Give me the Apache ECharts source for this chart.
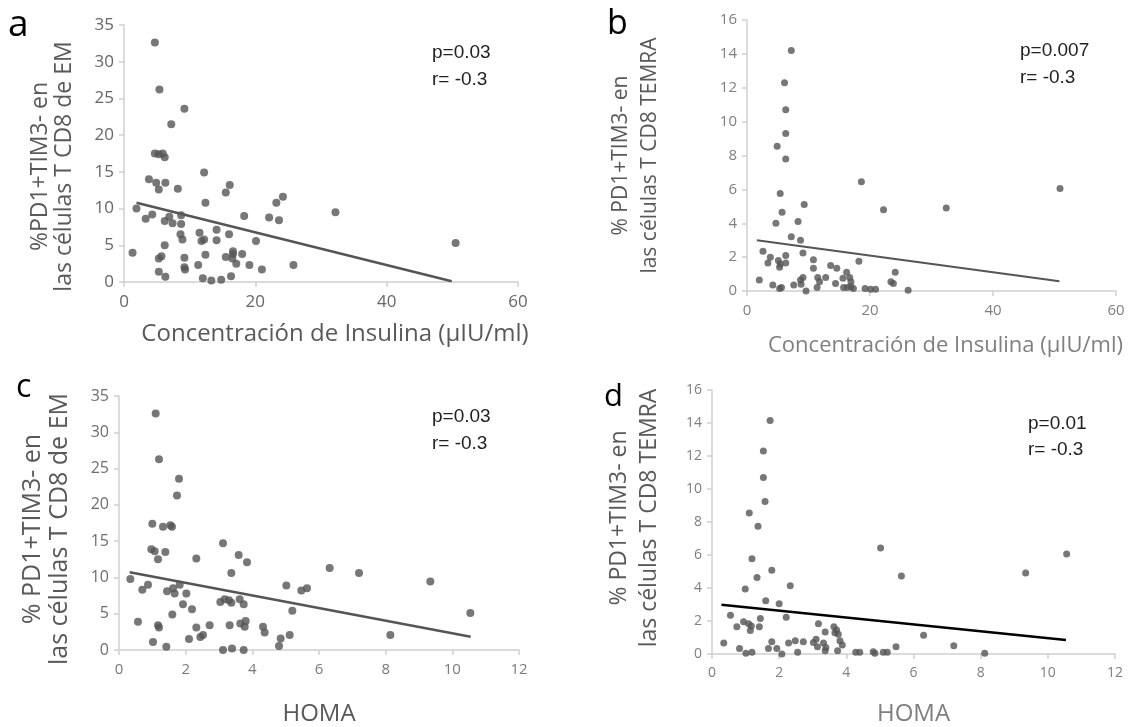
<!DOCTYPE html>
<html><head><meta charset="utf-8">
<script src="https://cdn.jsdelivr.net/npm/echarts@6/dist/echarts.min.js"></script>
<style>html,body{margin:0;padding:0;background:#fff}#c{width:1145px;height:727px}</style>
</head><body><div id="c"></div>
<script>
// Panel a: insulin vs EM
const aPoints = [[4.7,32.6],[5.4,26.2],[9.2,23.6],[7.2,21.5],[4.7,17.5],[5.3,17.4],[5.9,17.5],[6.2,17.0],[3.8,14.0],[4.9,13.5],[5.3,12.6],[6.3,13.5],[8.2,12.7],[12.2,14.9],[12.4,10.8],[15.5,12.2],[16.1,13.2],[1.9,10.0],[3.3,8.6],[4.3,9.2],[6.2,8.3],[6.9,8.9],[7.4,8.0],[8.7,9.1],[8.7,7.9],[8.6,6.5],[8.9,5.8],[11.5,6.7],[11.8,5.6],[12.2,5.8],[14.1,7.1],[14.1,5.7],[16.0,6.5],[18.3,9.0],[20.1,5.6],[22.1,8.8],[23.2,10.8],[23.6,8.4],[24.2,11.6],[1.3,4.0],[6.2,5.0],[5.7,3.5],[5.3,3.2],[9.2,3.3],[9.2,2.0],[9.3,1.7],[11.3,2.3],[12.4,3.7],[15.5,3.4],[16.6,4.2],[16.6,3.8],[16.5,3.2],[17.1,2.5],[18.0,3.8],[19.1,2.3],[21.0,1.7],[25.8,2.3],[5.3,1.4],[6.3,0.7],[12.0,0.5],[13.3,0.2],[14.8,0.3],[16.3,0.8],[32.2,9.5],[50.5,5.3]];
const aTrend = [[1.9,10.8],[49.9,0.1]];
// Panel b: insulin vs TEMRA
const bPoints = [[7.2,14.2],[6.1,12.3],[6.3,10.7],[6.3,9.3],[4.9,8.55],[6.3,7.8],[5.4,5.75],[5.7,4.65],[4.7,4.0],[9.3,5.1],[8.3,4.1],[7.2,3.2],[8.7,3.0],[18.6,6.45],[2.6,2.35],[3.8,2.0],[3.4,1.65],[5.1,1.8],[5.4,1.6],[5.3,1.4],[6.3,2.1],[6.3,1.65],[9.1,2.25],[2.0,0.65],[4.2,0.35],[5.3,0.15],[5.6,0.2],[7.6,0.35],[8.7,0.65],[9.1,0.8],[8.8,0.4],[9.6,0.0],[10.8,1.85],[10.8,1.35],[11.5,0.8],[11.8,0.55],[11.4,0.2],[12.8,0.8],[13.6,1.5],[14.6,1.35],[14.4,0.45],[15.7,0.2],[16.2,1.1],[16.7,0.8],[16.9,0.55],[15.6,0.75],[16.3,0.2],[16.9,0.25],[17.3,0.15],[18.2,1.75],[19.2,0.15],[20.1,0.1],[20.9,0.1],[22.2,4.8],[32.4,4.9],[50.9,6.05],[24.1,1.1],[23.4,0.55],[23.8,0.45],[26.2,0.05]];
const bTrend = [[1.6,3.0],[50.8,0.57]];
// Panel c: HOMA vs EM
const cPoints = [[1.1,32.6],[1.2,26.3],[1.8,23.6],[1.74,21.3],[1.0,17.4],[1.32,17.0],[1.54,17.2],[1.59,17.0],[0.97,13.9],[1.07,13.6],[1.17,12.5],[1.39,13.5],[3.12,14.7],[2.32,12.6],[3.37,10.6],[3.59,13.1],[3.84,12.1],[0.34,9.8],[0.7,8.3],[0.87,9.0],[1.44,8.1],[1.62,8.5],[1.67,7.8],[1.82,9.0],[2.02,7.8],[1.92,6.3],[2.19,5.6],[3.04,6.6],[3.17,7.0],[3.30,6.85],[3.37,6.5],[3.62,7.0],[3.74,6.3],[0.57,3.9],[1.6,4.9],[1.17,3.4],[1.2,3.1],[2.32,3.1],[2.44,1.8],[2.52,2.05],[2.72,3.4],[2.1,1.5],[1.02,1.1],[1.42,0.45],[3.32,3.4],[3.64,3.65],[3.8,4.0],[3.77,3.2],[4.32,3.2],[4.37,2.4],[3.12,0.0],[3.39,0.2],[3.74,0.0],[4.8,0.55],[4.85,1.6],[5.12,2.05],[5.02,8.9],[5.2,5.4],[5.47,8.2],[5.64,8.5],[6.32,11.3],[7.2,10.6],[9.34,9.45],[10.54,5.1],[8.14,2.05]];
const cTrend = [[0.32,10.7],[10.55,1.83]];
// Panel d: HOMA vs TEMRA
const dPoints = [[1.73,14.15],[1.53,12.3],[1.53,10.7],[1.58,9.25],[1.11,8.55],[1.37,7.75],[1.19,5.77],[1.34,4.63],[0.99,3.94],[1.78,5.07],[2.33,4.14],[1.6,3.22],[2.0,3.04],[2.21,2.23],[0.55,2.35],[0.74,1.65],[0.94,1.95],[1.09,1.83],[1.14,1.43],[1.17,1.69],[1.41,1.65],[1.44,2.15],[0.35,0.66],[0.82,0.34],[1.01,0.04],[1.19,0.1],[1.78,0.74],[1.68,0.34],[1.93,0.34],[2.08,0.0],[2.28,0.66],[2.48,0.8],[2.55,0.1],[2.72,0.74],[3.17,1.83],[3.02,0.7],[3.1,0.9],[3.14,0.44],[3.37,1.33],[3.32,0.66],[3.39,0.4],[3.37,0.2],[3.63,1.65],[3.66,1.29],[3.76,1.19],[3.71,1.45],[3.81,0.8],[3.88,0.54],[3.74,0.2],[4.28,0.1],[4.4,0.1],[4.8,0.14],[4.85,0.04],[5.02,6.42],[5.64,4.73],[9.34,4.91],[10.56,6.06],[6.3,1.13],[7.2,0.5],[8.12,0.04],[5.48,0.44],[5.1,0.1],[5.22,0.1]];
const dTrend = [[0.28,2.98],[10.54,0.85]];

const xNameInsulin = 'Concentración de Insulina (µIU/ml)';
const xNameHoma = 'HOMA';
const yNameEM_a = '%PD1+TIM3- en\nlas células T CD8 de EM';
const yNameEM_c = '% PD1+TIM3- en\nlas células T CD8 de EM';
const yNameTEMRA = '% PD1+TIM3- en\nlas células T CD8 TEMRA';
const panelLetters = ['a','b','c','d'];
const statsText = ['p=0.03\nr= -0.3','p=0.007\nr= -0.3','p=0.03\nr= -0.3','p=0.01\nr= -0.3'];

const FF = '"Open Sans", sans-serif';
const axisLine = {show:true, lineStyle:{color:'#d0d0d0', width:1.5}};
const axisTick = {show:true, length:5, lineStyle:{color:'#d0d0d0', width:1.5}};

function xAx(i, max, interval, name, fs, nfs, col, lcol, gap, nameOffset){
  return {gridIndex:i, type:'value', min:0, max:max, interval:interval, name:name,
    nameLocation:'middle', nameGap:gap, nameTextStyle:{fontFamily:FF, fontSize:nfs, color:col, padding:[0,0,0,nameOffset]},
    axisLine:axisLine, axisTick:axisTick, splitLine:{show:false},
    axisLabel:{fontFamily:FF, fontSize:fs, color:lcol, margin:12}};
}
function yAx(i, max, interval, name, fs, nfs, lh, gap, lcol, pad){
  return {gridIndex:i, type:'value', min:0, max:max, interval:interval, name:name,
    nameLocation:'middle', nameRotate:90, nameGap:gap,
    nameTextStyle:{fontFamily:FF, fontSize:nfs, color:'#595959', lineHeight:lh, padding:pad},
    axisLine:axisLine, axisTick:axisTick, splitLine:{show:false},
    axisLabel:{fontFamily:FF, fontSize:fs, color:lcol, margin:10}};
}
function sc(i, data, size){
  return {type:'scatter', xAxisIndex:i, yAxisIndex:i, data:data, symbolSize:size,
    itemStyle:{color:'#555555'}, silent:true};
}
function tr(i, data, color, w){
  return {type:'line', xAxisIndex:i, yAxisIndex:i, data:data, symbol:'none',
    lineStyle:{color:color, width:w}, silent:true};
}
const statFont = '19px "Liberation Sans", Arial';

const option = {
  animation:false,
  grid:[
    {left:124, top:25, width:394, height:257},
    {left:747, top:20, width:369, height:271},
    {left:119, top:396, width:400, height:256},
    {left:712, top:390, width:403, height:268}
  ],
  xAxis:[
    xAx(0, 60, 20, xNameInsulin, 17, 24, '#595959', '#666666', 40, 28),
    xAx(1, 60, 20, xNameInsulin, 15, 22, '#7f7f7f', '#7f7f7f', 44, 28),
    xAx(2, 12, 2, xNameHoma, 15, 24, '#595959', '#7a7a7a', 52, 0),
    xAx(3, 12, 2, xNameHoma, 14, 24, '#7f7f7f', '#7f7f7f', 48, 0)
  ],
  yAxis:[
    yAx(0, 35, 5, yNameEM_a, 17, 23, 24, 48, '#666666', [0,26,0,0]),
    yAx(1, 16, 2, yNameTEMRA, 15, 21, 29, 82, '#7f7f7f', [0,0,0,0]),
    yAx(2, 35, 5, yNameEM_c, 16, 25, 27, 46, '#6e6e6e', [0,12,0,0]),
    yAx(3, 16, 2, yNameTEMRA, 14, 23, 30, 48, '#7f7f7f', [0,0,0,8])
  ],
  series:[
    sc(0, aPoints, 8), tr(0, aTrend, '#555555', 2.5),
    sc(1, bPoints, 7), tr(1, bTrend, '#555555', 2),
    sc(2, cPoints, 8), tr(2, cTrend, '#555555', 2.5),
    sc(3, dPoints, 7), tr(3, dTrend, '#000000', 2.5)
  ],
  graphic:[
    {type:'text', left:8, top:7, style:{text:panelLetters[0], font:'37px '+FF, fill:'#000'}},
    {type:'text', left:607, top:7, style:{text:panelLetters[1], font:'34px '+FF, fill:'#000'}},
    {type:'text', left:16, top:372, style:{text:panelLetters[2], font:'32px '+FF, fill:'#000'}},
    {type:'text', left:604, top:382, style:{text:panelLetters[3], font:'31px '+FF, fill:'#000'}},
    {type:'text', left:432, top:39, style:{text:statsText[0], font:statFont, fill:'#222', lineHeight:27}},
    {type:'text', left:1020, top:37, style:{text:statsText[1], font:statFont, fill:'#222', lineHeight:27}},
    {type:'text', left:432, top:403, style:{text:statsText[2], font:statFont, fill:'#222', lineHeight:27}},
    {type:'text', left:1028, top:411, style:{text:statsText[3], font:statFont, fill:'#222', lineHeight:26}}
  ]
};
const chart = echarts.init(document.getElementById('c'));
chart.setOption(option);
</script></body></html>
